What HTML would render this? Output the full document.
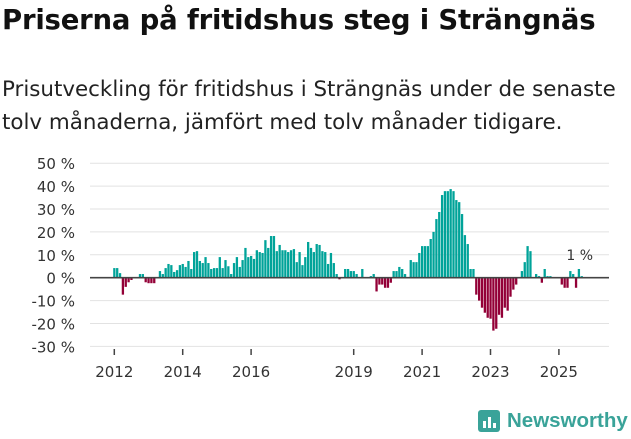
<!DOCTYPE html>
<html><head><meta charset="utf-8"><style>
body{margin:0;width:631px;height:439px;background:#fff;font-family:"DejaVu Sans","Liberation Sans",sans-serif;overflow:hidden;position:relative;color:#111}
#t{position:absolute;left:2px;top:4px;font-size:27.5px;font-weight:bold;letter-spacing:-0.2px;white-space:nowrap}
#s{position:absolute;left:2px;top:73px;font-size:21.4px;line-height:33px;color:#222;white-space:nowrap}
svg{position:absolute;left:0;top:0}
</style></head><body>
<div id="t">Priserna på fritidshus steg i Strängnäs</div>
<div id="s">Prisutveckling för fritidshus i Strängnäs under de senaste<br>tolv månaderna, jämfört med tolv månader tidigare.</div>
<svg id="c" width="631" height="439"></svg>
<script>
const yTicks=[50,40,30,20,10,0,-10,-20,-30];
const yearLabels=[2012,2014,2016,2019,2021,2023,2025];
const startYear=2012;
const values=[4.2,4.2,2,-7.4,-4,-2,-1,0,0,1.6,1.6,-2,-2.4,-2.4,-2.4,0,2.9,1.6,4.2,6,5.5,2.5,3.3,5.5,6,4.7,7.3,3.8,11.2,11.6,7.3,6.4,9,6.4,3.8,4.2,4.2,9,4.2,7.7,5,1.6,6.4,9,4.7,7.7,13,9,9.5,8.2,12,11.2,10.8,16.4,13,18.2,18.2,11.6,14.3,12,12,11.2,12,12.5,6.8,11.2,5.5,9,15.6,13,11.2,14.7,14.3,11.6,11.2,6,10.8,6.4,1.6,-0.7,0,3.8,3.8,2.9,2.9,1.6,0,3.8,0,0,0.7,1.6,-6,-3,-3,-4.4,-4.4,-2.2,2.9,2.9,4.7,3.8,1.6,0,7.7,6.8,6.8,10.8,13.8,13.8,13.8,16.9,20,25.6,28.7,36.1,37.8,37.8,38.7,37.8,33.9,33,27.8,18.6,14.7,3.8,3.8,-7.4,-10,-13.1,-15.3,-17.5,-17.9,-23.1,-22.3,-16.2,-17.5,-13.1,-14.4,-8.3,-5.2,-3,0,2.9,6.8,13.8,11.6,0,1.6,0.7,-2.2,3.8,0.7,0.7,0,0,0,-3,-4.4,-4.4,2.9,1.6,-4.4,3.8,0.7];
const lastLabel="1 %";
const svg=document.getElementById('c');const NS='http://www.w3.org/2000/svg';
function y(v){return 277.7-v*2.29;}
function x(m){return 114.3+m*2.85;}
function mk(t,a){const e=document.createElementNS(NS,t);for(const k in a)e.setAttribute(k,a[k]);svg.appendChild(e);return e;}
yTicks.forEach(v=>{
 const g=mk('line',{x1:90,x2:609,y1:y(v),y2:y(v),stroke:'#e2e2e2','stroke-width':1});
 
 
 const t=mk('text',{x:75,y:y(v)+6,'text-anchor':'end','font-size':15,fill:'#333','font-family':'DejaVu Sans, sans-serif'});
 t.textContent=v+' %';
 
 
});
values.forEach((v,i)=>{
 const b=mk('rect',{x:x(i)-1.1,y:Math.min(y(v),y(0)),width:2.3,height:Math.abs(y(v)-y(0)),fill:v>=0?'#00a399':'#930037'});
 
 
});
const z=mk('line',{x1:90,x2:609,y1:y(0),y2:y(0),stroke:'#444','stroke-width':1.6});


yearLabels.forEach(yr=>{
 const px=x((yr-startYear)*12);
 const tk=mk('line',{x1:px,x2:px,y1:349,y2:355,stroke:'#444','stroke-width':1.5});
 
 
 const t=mk('text',{x:px,y:377,'text-anchor':'middle','font-size':15,fill:'#333','font-family':'DejaVu Sans, sans-serif'});
 t.textContent=yr;
 
 
});
const ll=mk('text',{x:x(values.length-1)-2,y:260,'text-anchor':'middle','font-size':14,fill:'#333','font-family':'DejaVu Sans, sans-serif'});
ll.textContent=lastLabel;


</script>
<div style="position:absolute;left:478px;top:409px;display:flex;align-items:center">
<div style="width:22px;height:22px;background:#3aa399;border-radius:3px;position:relative;margin-right:7px"><div style="position:absolute;left:5px;bottom:4px;width:3px;height:7px;background:#fff"></div><div style="position:absolute;left:10px;bottom:4px;width:3px;height:11px;background:#fff"></div><div style="position:absolute;left:15px;bottom:4px;width:3px;height:5px;background:#fff"></div></div>
<span style="font-size:20.5px;font-weight:bold;color:#3aa399;font-family:'Liberation Sans',sans-serif">Newsworthy</span></div>
</body></html>
